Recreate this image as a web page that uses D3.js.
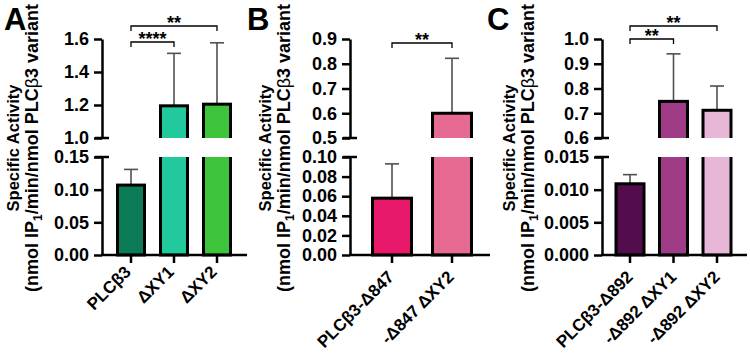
<!DOCTYPE html>
<html>
<head>
<meta charset="utf-8">
<script src="https://cdn.jsdelivr.net/npm/d3@7"></script>
<style>
  body { margin: 0; background: #fff; }
  svg { font-family: "Liberation Sans", Arial, sans-serif; font-weight: bold; }
</style>
</head>
<body>
<svg id="chart" width="750" height="356"></svg>
<script>
// panel A
let catsA = ["PLCβ3", "ΔXY1", "ΔXY2"];
let valsA = [0.107, 1.195, 1.205];
let errsA = [0.024, 0.318, 0.372];
let colorsA = ["#0b7a56", "#22c99c", "#3dc43b"];
let upperTicksA = [1.0, 1.2, 1.4, 1.6];
let lowerTicksA = [0.00, 0.05, 0.10, 0.15];
let sigA = [[0, 1, "****"], [0, 2, "**"]];

// panel B
let catsB = ["PLCβ3-Δ847", "-Δ847 ΔXY2"];
let valsB = [0.058, 0.6];
let errsB = [0.035, 0.222];
let colorsB = ["#e8196b", "#e66a92"];
let upperTicksB = [0.5, 0.6, 0.7, 0.8, 0.9];
let lowerTicksB = [0.00, 0.02, 0.04, 0.06, 0.08, 0.10];
let sigB = [[0, 1, "**"]];

// panel C
let catsC = ["PLCβ3-Δ892", "-Δ892 ΔXY1", "-Δ892 ΔXY2"];
let valsC = [0.0109, 0.748, 0.712];
let errsC = [0.0014, 0.192, 0.098];
let colorsC = ["#530d4c", "#a03b87", "#e8b7d8"];
let upperTicksC = [0.6, 0.7, 0.8, 0.9, 1.0];
let lowerTicksC = [0.000, 0.005, 0.010, 0.015];
let sigC = [[0, 1, "**"], [0, 2, "**"]];

let panels = [
  {letter: "A", cats: catsA, vals: valsA, errs: errsA, colors: colorsA, up: upperTicksA, lo: lowerTicksA, sig: sigA,
   upFmt: ".1f", loFmt: ".2f", axisX: 102, x0: 131, x1: 217, barW: 30, xEnd: 247, letterX: 4, titleX: 19,
   sigY: [42, 26], lblDx: 1, lblDy: 18},
  {letter: "B", cats: catsB, vals: valsB, errs: errsB, colors: colorsB, up: upperTicksB, lo: lowerTicksB, sig: sigB,
   upFmt: ".1f", loFmt: ".2f", axisX: 350, x0: 392, x1: 452, barW: 42, xEnd: 490, letterX: 247, titleX: 271,
   sigY: [43], lblDx: 3, lblDy: 23},
  {letter: "C", cats: catsC, vals: valsC, errs: errsC, colors: colorsC, up: upperTicksC, lo: lowerTicksC, sig: sigC,
   upFmt: ".1f", loFmt: ".3f", axisX: 602, x0: 630, x1: 717, barW: 31, xEnd: 747, letterX: 487, titleX: 515,
   sigY: [39, 26], lblDx: 4, lblDy: 23}
];

let svg = d3.select("#chart");
let defs = svg.append("defs");
let topY = 39, breakUp = 138, breakLo = 157, baseY = 255;

panels.forEach((p, pi) => {
  let g = svg.append("g");
  let yUp = d3.scaleLinear().domain(d3.extent(p.up)).range([breakUp, topY]);
  let yLo = d3.scaleLinear().domain(d3.extent(p.lo)).range([baseY, breakLo]);
  let x = d3.scalePoint().domain(p.cats).range([p.x0, p.x1]);
  let upMin = d3.min(p.up), loMax = d3.max(p.lo);

  // clips for the two segments
  defs.append("clipPath").attr("id", "cu" + pi).append("rect")
    .attr("x", p.axisX).attr("y", 0).attr("width", 200).attr("height", breakUp);
  defs.append("clipPath").attr("id", "cl" + pi).append("rect")
    .attr("x", p.axisX).attr("y", breakLo).attr("width", 200).attr("height", 200);

  let bw = p.barW - 3;
  let y = v => v > loMax ? yUp(v) : yLo(v);

  // error bars (upward only)
  p.cats.forEach((c, i) => {
    let v = p.vals[i], e = p.errs[i], cx = x(c);
    g.append("line").attr("x1", cx).attr("x2", cx)
      .attr("y1", y(v)).attr("y2", y(v + e))
      .attr("stroke", "#505050").attr("stroke-width", 1.6);
    g.append("line").attr("x1", cx - 7).attr("x2", cx + 7)
      .attr("y1", y(v + e)).attr("y2", y(v + e))
      .attr("stroke", "#505050").attr("stroke-width", 1.6);
  });

  // bars, lower segment
  g.append("g").attr("clip-path", `url(#cl${pi})`)
    .selectAll("rect").data(p.cats).join("rect")
    .attr("x", c => x(c) - bw / 2).attr("width", bw)
    .attr("y", (c, i) => p.vals[i] > loMax ? breakLo - 10 : yLo(p.vals[i]))
    .attr("height", (c, i) => baseY - (p.vals[i] > loMax ? breakLo - 10 : yLo(p.vals[i])))
    .attr("fill", (c, i) => p.colors[i]).attr("stroke", "#000").attr("stroke-width", 3);

  // bars, upper segment
  g.append("g").attr("clip-path", `url(#cu${pi})`)
    .selectAll("rect").data(p.cats.filter((c, i) => p.vals[i] > upMin)).join("rect")
    .attr("x", c => x(c) - bw / 2).attr("width", bw)
    .attr("y", c => yUp(p.vals[p.cats.indexOf(c)]))
    .attr("height", c => breakUp + 10 - yUp(p.vals[p.cats.indexOf(c)]))
    .attr("fill", c => p.colors[p.cats.indexOf(c)]).attr("stroke", "#000").attr("stroke-width", 3);

  // y axes
  let axUp = g.append("g").attr("transform", `translate(${p.axisX},0)`)
    .call(d3.axisLeft(yUp).tickValues(p.up).tickSize(8).tickSizeOuter(0).tickPadding(5).tickFormat(d3.format(p.upFmt)));
  let axLo = g.append("g").attr("transform", `translate(${p.axisX},0)`)
    .call(d3.axisLeft(yLo).tickValues(p.lo).tickSize(8).tickSizeOuter(0).tickPadding(5).tickFormat(d3.format(p.loFmt)));
  [axUp, axLo].forEach(ax => {
    ax.selectAll("path, line").attr("stroke", "#000").attr("stroke-width", 2.5);
    ax.selectAll("text").attr("fill", "#000").attr("font-size", 18)
      .attr("font-family", "Liberation Sans, Arial, sans-serif").attr("font-weight", "bold");
  });
  // break caps
  [yUp(upMin), yLo(loMax)].forEach(yy => {
    g.append("line").attr("x1", p.axisX - 7).attr("x2", p.axisX + 7)
      .attr("y1", yy).attr("y2", yy).attr("stroke", "#000").attr("stroke-width", 2.5);
  });

  // x axis
  g.append("line").attr("x1", p.axisX - 1).attr("x2", p.xEnd)
    .attr("y1", baseY).attr("y2", baseY).attr("stroke", "#000").attr("stroke-width", 2.5);
  g.selectAll(".xt").data(p.cats).join("line")
    .attr("x1", c => x(c)).attr("x2", c => x(c))
    .attr("y1", baseY).attr("y2", baseY + 8).attr("stroke", "#000").attr("stroke-width", 2.5);
  g.selectAll(".xl").data(p.cats).join("text")
    .attr("transform", c => `translate(${x(c) + p.lblDx},${baseY + p.lblDy}) rotate(-45)`)
    .attr("text-anchor", "end").attr("font-size", 17).text(c => c);

  // significance brackets
  p.sig.forEach((s, k) => {
    let xa = x(p.cats[s[0]]), xb = x(p.cats[s[1]]), sy = p.sigY[k];
    g.append("path").attr("d", `M${xa},${sy + 5}V${sy}H${xb}V${sy + 5}`)
      .attr("fill", "none").attr("stroke", "#000").attr("stroke-width", 1.3);
    g.append("text").attr("x", (xa + xb) / 2).attr("y", sy + 3)
      .attr("text-anchor", "middle").attr("font-size", 18).text(s[2]);
  });

  // panel letter
  g.append("text").attr("x", p.letterX).attr("y", 30).attr("font-size", 31).text(p.letter);

  // y title
  let t = g.append("g").attr("transform", `translate(${p.titleX},148) rotate(-90)`);
  t.append("text").attr("text-anchor", "middle").attr("font-size", 16.5).text("Specific Activity");
  let t2 = t.append("text").attr("text-anchor", "middle").attr("y", 19).attr("font-size", 18);
  t2.append("tspan").text("(nmol IP");
  t2.append("tspan").attr("font-size", 12).attr("dy", 4).text("1");
  t2.append("tspan").attr("dy", -4).text("/min/nmol PLC");
  t2.append("tspan").attr("font-weight", "normal").text("β");
  t2.append("tspan").text("3 variant");
});
</script>
</body>
</html>
